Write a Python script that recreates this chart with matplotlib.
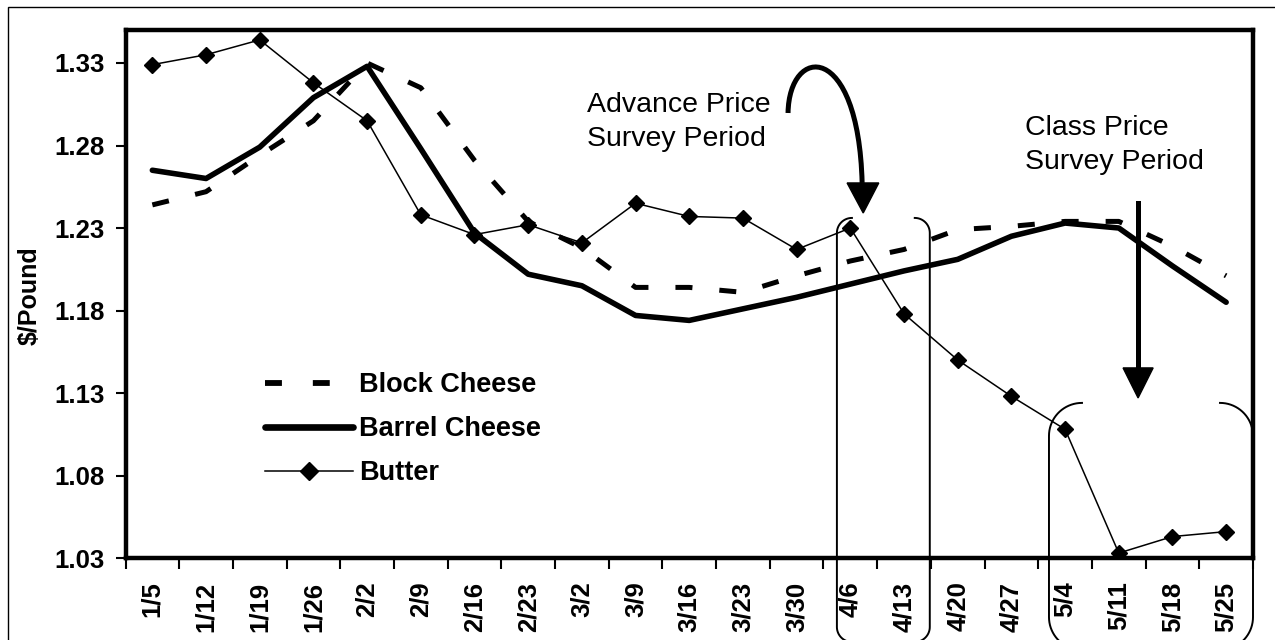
import matplotlib
matplotlib.use("Agg")
from matplotlib import pyplot as plt
from matplotlib.lines import Line2D
from matplotlib.patches import Polygon, Rectangle
from matplotlib.path import Path
from matplotlib.patches import PathPatch
import numpy as np

plt.rcParams['font.family'] = ['Liberation Sans', 'DejaVu Sans']

weeks = ["1/5", "1/12", "1/19", "1/26", "2/2", "2/9", "2/16", "2/23", "3/2", "3/9", "3/16",
         "3/23", "3/30", "4/6", "4/13", "4/20", "4/27", "5/4", "5/11", "5/18", "5/25"]
block_cheese = [1.244, 1.252, 1.274, 1.295, 1.330, 1.315, 1.271, 1.234, 1.218, 1.194, 1.194,
                1.191, 1.201, 1.210, 1.217, 1.229, 1.231, 1.234, 1.234, 1.219, 1.201]
barrel_cheese = [1.265, 1.260, 1.279, 1.309, 1.328, 1.278, 1.227, 1.202, 1.195, 1.177, 1.174,
                 1.181, 1.188, 1.196, 1.204, 1.211, 1.225, 1.233, 1.230, 1.207, 1.185]
butter = [1.329, 1.335, 1.344, 1.318, 1.295, 1.238, 1.226, 1.232, 1.221, 1.245, 1.237,
          1.236, 1.217, 1.230, 1.178, 1.150, 1.128, 1.108, 1.033, 1.043, 1.046]
yticks = [1.03, 1.08, 1.13, 1.18, 1.23, 1.28, 1.33]

BLOCK_DASH = (3.4, 5.4)


def bracket_pair(ax, x0, x1, top, bottom, rx, ry):
    """Draws a rounded bracket pair ( [ ... ] ) between x0 and x1."""
    a_tl = np.linspace(np.pi / 2, np.pi, 20)
    a_bl = np.linspace(np.pi, 1.5 * np.pi, 20)
    lx = np.concatenate([x0 + rx + rx * np.cos(a_tl), x0 + rx + rx * np.cos(a_bl)])
    ly = np.concatenate([top - ry + ry * np.sin(a_tl), bottom + ry + ry * np.sin(a_bl)])
    a_tr = np.linspace(np.pi / 2, 0, 20)
    a_br = np.linspace(0, -np.pi / 2, 20)
    rxs = np.concatenate([x1 - rx + rx * np.cos(a_tr), x1 - rx + rx * np.cos(a_br)])
    rys = np.concatenate([top - ry + ry * np.sin(a_tr), bottom + ry + ry * np.sin(a_br)])
    for xs, ys in ((lx, ly), (rxs, rys)):
        ax.plot(xs, ys, color="black", lw=1.4, clip_on=False, zorder=6)


fig = plt.figure(figsize=(12.75, 6.4), dpi=100)
fig.add_artist(Rectangle((8 / 1275, -0.1), 1.2, 1.1 - 7 / 640, transform=fig.transFigure,
                         fill=False, edgecolor="black", lw=1.0))
ax = fig.add_axes([125.5 / 1275, 1 - 558 / 640, (1253 - 125.5) / 1275, (558 - 30) / 640])

x = np.arange(len(weeks))
ax.plot(x, block_cheese, color="black", lw=3.6, dashes=BLOCK_DASH, dash_capstyle="butt", zorder=3)
ax.plot(x, barrel_cheese, color="black", lw=4.0, solid_capstyle="round", solid_joinstyle="round", zorder=3)
ax.plot(x, butter, color="black", lw=1.1, marker="D", markersize=8.5, zorder=4)

ax.set_xlim(-0.5, len(weeks) - 0.5)
ax.set_ylim(1.03, 1.35)
ax.set_yticks(yticks)
ax.set_yticklabels(["%.2f" % v for v in yticks])
ax.set_xticks(x)
ax.set_xticklabels(weeks, rotation=90)
ax.set_xticks(np.arange(len(weeks) + 1) - 0.5, minor=True)
ax.tick_params(axis="x", which="major", length=0, pad=17, labelsize=18.5)
ax.tick_params(axis="x", which="minor", length=8, width=1.5, direction="out")
ax.tick_params(axis="y", length=7, width=1.5, pad=8, labelsize=18.5)
for lab in ax.get_xticklabels() + ax.get_yticklabels():
    lab.set_fontweight("bold")
for sp in ax.spines.values():
    sp.set_linewidth(3.2)

ax.set_ylabel("$/Pound", fontsize=18, fontweight="bold")
ax.yaxis.set_label_coords(-0.074, 0.496)

handles = [
    Line2D([], [], color="black", lw=4.2, dashes=(2.9, 5.3), dash_capstyle="butt"),
    Line2D([], [], color="black", lw=4.8, solid_capstyle="round"),
    Line2D([], [], color="black", lw=1.1, marker="D", markersize=9),
]
leg = ax.legend(handles, ["Block Cheese", "Barrel Cheese", "Butter"], loc="upper left",
                bbox_to_anchor=(0.114, 0.372), frameon=False, handlelength=3.25,
                handletextpad=0.22, labelspacing=0.66, borderpad=0.4, borderaxespad=0,
                prop={"size": 19.5, "weight": "bold"})

# advance price survey period
ax.text(8.10, 1.3124, "Advance Price\nSurvey Period", ha="left", va="top", fontsize=20.5, linespacing=1.42)
curve = Path([(11.84, 1.2997), (11.86, 1.3409), (13.15, 1.3439), (13.22, 1.2573)],
             [Path.MOVETO, Path.CURVE4, Path.CURVE4, Path.CURVE4])
ax.add_patch(PathPatch(curve, fill=False, lw=3.6, edgecolor="black", zorder=7))
ax.add_patch(Polygon([(12.94, 1.2573), (13.53, 1.2573), (13.24, 1.2391)], closed=True,
                     color="black", zorder=7))
bracket_pair(ax, 12.75, 14.48, 1.2361, 0.9791, 0.28, 0.0091)

# class price survey period
ax.text(16.25, 1.2985, "Class Price\nSurvey Period", ha="left", va="top", fontsize=20.5, linespacing=1.42)
ax.plot([18.36, 18.36], [1.2452, 1.1452], color="black", lw=3.6, zorder=7)
ax.add_patch(Polygon([(18.08, 1.1452), (18.64, 1.1452), (18.36, 1.127)], closed=True,
                     color="black", zorder=7))
bracket_pair(ax, 16.70, 20.50, 1.124, 0.9742, 0.615, 0.020)

fig.savefig("out.png", dpi=100)
